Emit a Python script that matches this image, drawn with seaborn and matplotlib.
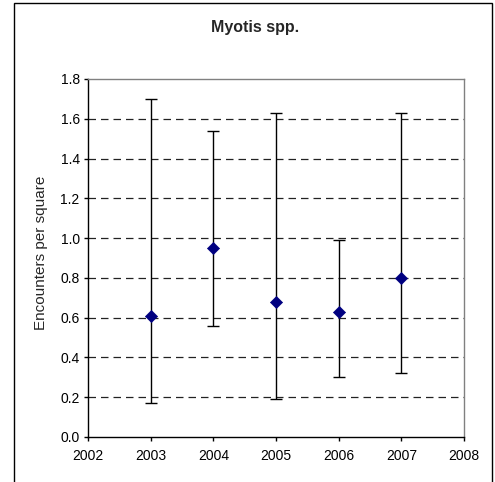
import matplotlib
matplotlib.use("Agg")
import matplotlib.pyplot as plt
import numpy as np
import pandas as pd
import seaborn as sns
from matplotlib.patches import Rectangle

# --- Data ---
years = [2003, 2004, 2005, 2006, 2007]
encounters = [0.61, 0.95, 0.68, 0.63, 0.80]
upper = [1.70, 1.54, 1.63, 0.99, 1.63]
lower = [0.17, 0.56, 0.19, 0.30, 0.32]
x_ticks = [2002, 2003, 2004, 2005, 2006, 2007, 2008]
y_ticks = [0.0, 0.2, 0.4, 0.6, 0.8, 1.0, 1.2, 1.4, 1.6, 1.8]

df = pd.DataFrame({"year": years, "mean": encounters, "upper": upper, "lower": lower})

sns.set_style("white")
plt.rcParams["font.family"] = ["Liberation Sans", "DejaVu Sans"]

fig = plt.figure(figsize=(4.95, 4.82), dpi=100)
ax = fig.add_axes([0.1778, 0.0934, 0.7596, 0.7427])

# outer chart border (open at the bottom, as in the reference)
fig.patches.append(
    Rectangle((0.0283, -0.2), 0.966, 1.1938, transform=fig.transFigure,
              fill=False, edgecolor="black", linewidth=1.0, clip_on=False)
)

# dashed horizontal gridlines
for y in y_ticks[1:-1]:
    ax.axhline(y, color="#222222", linestyle=(0, (6, 4)), linewidth=0.9, zorder=0)

ax.errorbar(
    df["year"], df["mean"],
    yerr=[df["mean"] - df["lower"], df["upper"] - df["mean"]],
    fmt="none", ecolor="black", elinewidth=1.0, capsize=4.5, capthick=1.0, zorder=2,
)
sns.scatterplot(data=df, x="year", y="mean", marker="D", color="#000080",
                s=38, edgecolor="#000080", linewidth=0.5, ax=ax, zorder=3)

ax.set_xlim(2002, 2008)
ax.set_ylim(0, 1.8)
ax.set_xticks(x_ticks)
ax.set_yticks(y_ticks)
ax.set_yticklabels([f"{v:.1f}" for v in y_ticks])
ax.tick_params(axis="both", labelsize=10, colors="black", length=3, width=1,
               direction="out", bottom=True, left=True)
ax.tick_params(axis="x", pad=6)
ax.tick_params(axis="y", pad=3)

for side in ["top", "right"]:
    ax.spines[side].set_color("#808080")
    ax.spines[side].set_linewidth(1.0)
for side in ["left", "bottom"]:
    ax.spines[side].set_color("black")
    ax.spines[side].set_linewidth(1.0)

ax.set_xlabel("")
ax.set_ylabel("Encounters per square", fontsize=11)
ax.yaxis.set_label_coords(-0.106, 0.514)

fig.text(0.515, 0.942, "Myotis spp.", ha="center", va="center",
         fontsize=11.5, fontweight="bold")

fig.savefig("out.png", dpi=100)
